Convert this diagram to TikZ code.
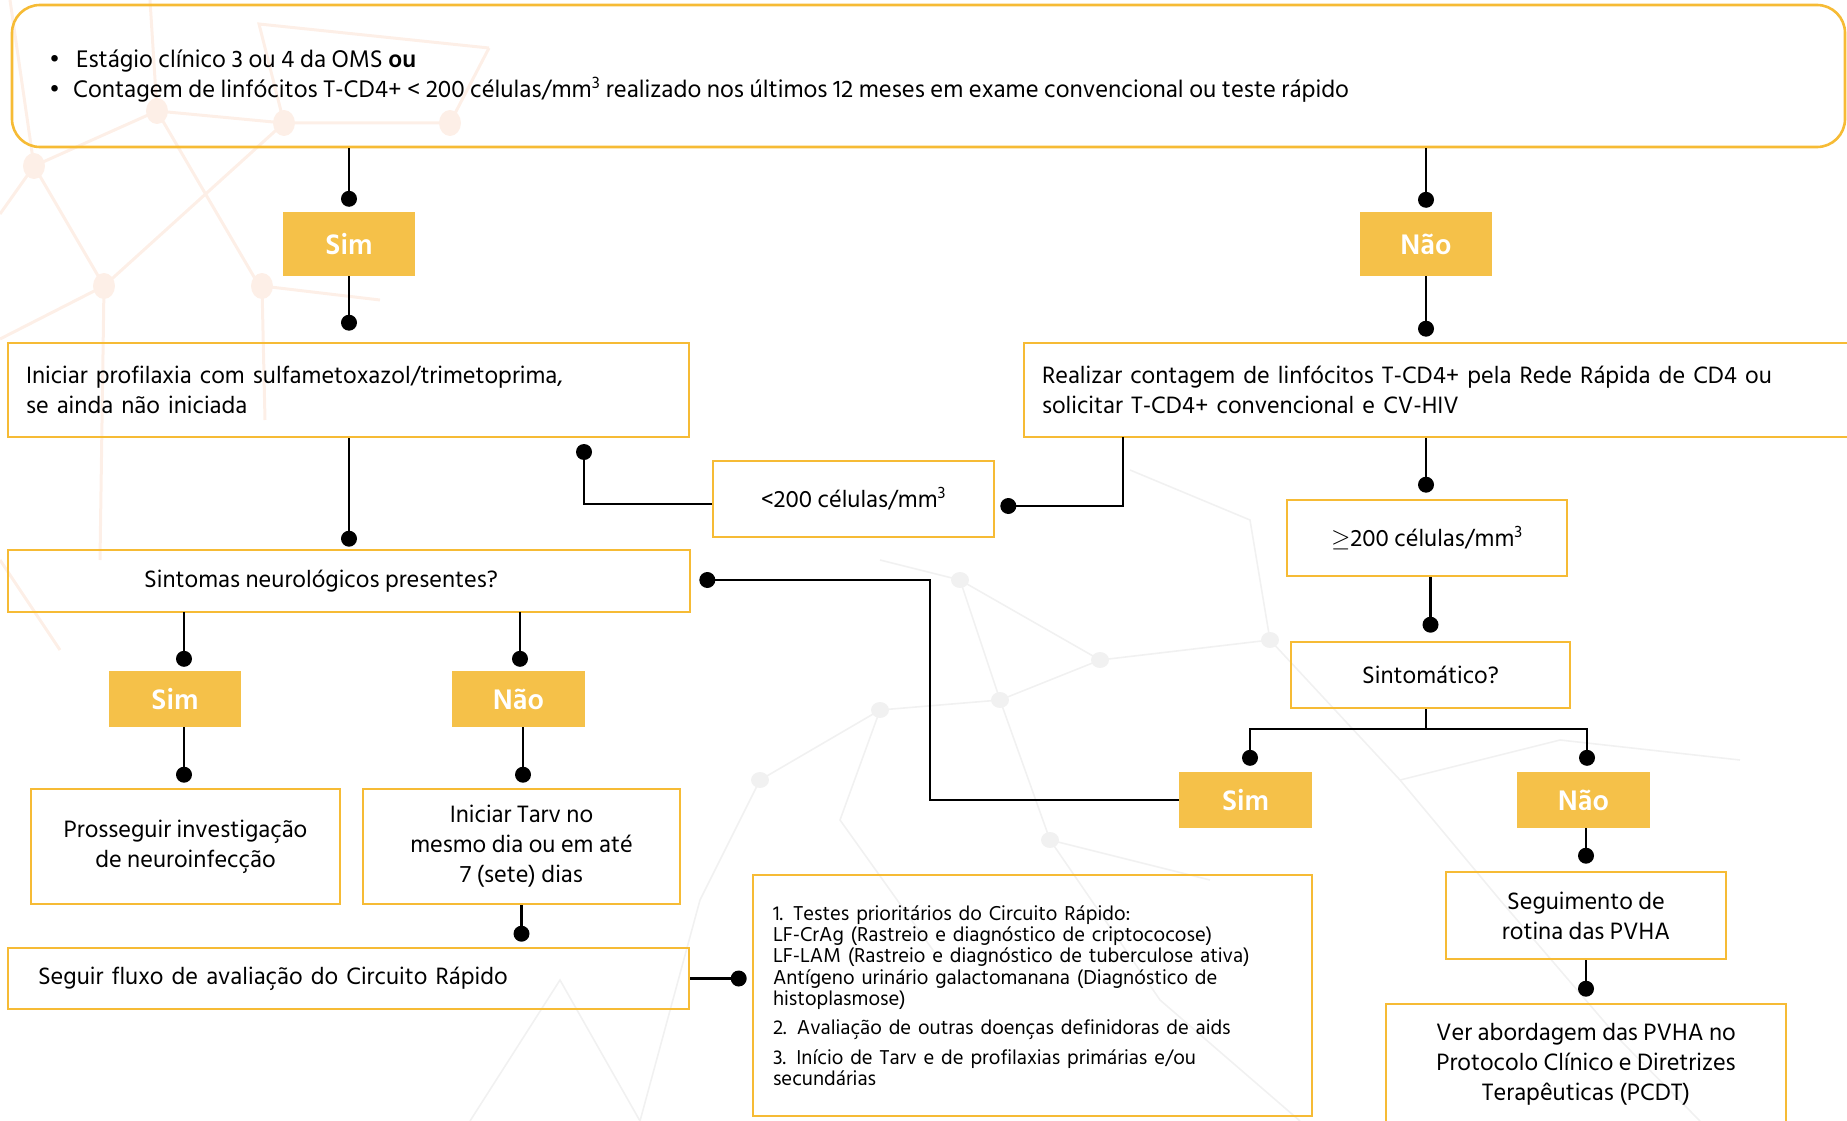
\documentclass[tikz,border=0pt]{standalone}
\usepackage{fontspec}
\setmainfont{Hind Siliguri}
\usetikzlibrary{calc}
\definecolor{boxline}{HTML}{F6BB35}
\definecolor{tagfill}{HTML}{F5C149}
\definecolor{netwarm}{HTML}{FDEFE7}
\definecolor{netcool}{HTML}{F1F1F1}

\begin{document}
\begin{tikzpicture}[x=1pt,y=-1pt,
  box/.style={draw=boxline, line width=2.6pt, inner sep=0pt,
    font=\fontsize{24.3}{30}\selectfont},
  tag/.style={fill=tagfill, inner sep=0pt, text=white,
    font=\fontsize{29}{30}\selectfont\bfseries},
  link/.style={line width=2.4pt, black},
  dot/.style={circle, fill=black, inner sep=0pt, minimum size=16pt},
  warm/.style={netwarm, line width=3pt},
  cool/.style={netcool, line width=1.6pt}
]
\useasboundingbox (0,0) rectangle (1847,1121);

% faint network texture in the background
\begin{scope}[warm]
  \draw (0,214) -- (34,166) -- (157,111) -- (284,123) -- (450,123);
  \draw (10,0) -- (34,166) -- (104,286) -- (0,339);
  \draw (150,0) -- (157,111) -- (257,282);
  \draw (104,286) -- (284,123) -- (259,24) -- (489,48);
  \draw (104,286) -- (100,560);
  \draw (262,286) -- (265,420);
  \draw (262,286) -- (380,300);
  \draw (450,123) -- (489,48);
  \draw (0,560) -- (60,650);
  \foreach \p in {(34,166),(157,111),(284,123),(104,286),(262,286),(450,123)}
    \fill[netwarm] \p ellipse (11pt and 13pt);
\end{scope}
\begin{scope}[cool]
  \draw (880,560) -- (960,580) -- (1000,700) -- (880,710) -- (760,780);
  \draw (960,580) -- (1100,660) -- (1000,700) -- (1050,840) -- (1210,880);
  \draw (1100,660) -- (1270,640) -- (1400,780) -- (1500,900);
  \draw (760,780) -- (700,900) -- (640,1121);
  \draw (1050,840) -- (1160,1000) -- (1300,1121);
  \draw (880,710) -- (840,820) -- (940,960);
  \draw (640,1121) -- (560,980) -- (470,1121);
  \draw (1270,640) -- (1250,520) -- (1130,470);
  \draw (1500,900) -- (1620,1040) -- (1700,1121);
  \draw (1400,780) -- (1560,740) -- (1740,760);
  \foreach \p in {(960,580),(1000,700),(880,710),(1100,660),(1050,840),(1270,640),(760,780)}
    \fill[netcool] \p ellipse (9pt and 8pt);
\end{scope}

% condition box
\node[box, rounded corners=28pt, minimum width=1833pt, minimum height=142pt]
  (crit) at (928.5,76) {};
\node[anchor=west, align=left, inner sep=0pt, font=\fontsize{24.6}{30}\selectfont]
  (crittext) at (49,76)
  {\textbullet\hspace{16pt}Estágio clínico 3 ou 4 da OMS \textbf{ou}\\
   \textbullet\hspace{13pt}Contagem de linfócitos T-CD4+ < 200 células/mm\textsuperscript{3}
   realizado nos últimos 12 meses em exame convencional ou teste rápido};

% first decision
\node[tag, minimum width=132pt, minimum height=64pt] (sim1) at (349,244) {Sim};
\node[tag, minimum width=132pt, minimum height=64pt] (nao1) at (1426,244) {Não};

\node[box, minimum height=94pt, text width=645pt, inner xsep=18pt, align=left]
  (prof) at (348.5,390)
  {Iniciar profilaxia com sulfametoxazol/trimetoprima,\\ se ainda não iniciada};
\node[box, minimum height=94pt, text width=792pt, inner xsep=18pt, align=left]
  (real) at (1438,390)
  {Realizar contagem de linfócitos T-CD4+ pela Rede Rápida de CD4 ou\\
   solicitar T-CD4+ convencional e CV-HIV};

\node[box, minimum width=281pt, minimum height=76pt] (lt) at (853.5,499)
  {<200 células/mm\textsuperscript{3}};
\node[box, minimum width=280pt, minimum height=76pt] (ge) at (1427,538)
  {$\geq$200 células/mm\textsuperscript{3}};

\node[box, minimum width=682pt, minimum height=62pt] (neuro) at (349,581)
  {Sintomas neurológicos presentes?\hspace*{56pt}\null};
\node[box, minimum width=279pt, minimum height=66pt] (symp) at (1430.5,675)
  {Sintomático?};

% second level answers
\node[tag, minimum width=132pt, minimum height=56pt] (sim2) at (175,699) {Sim};
\node[tag, minimum width=133pt, minimum height=56pt] (nao2) at (518.5,699) {Não};
\node[tag, minimum width=133pt, minimum height=56pt] (sim3) at (1245.5,800) {Sim};
\node[tag, minimum width=133pt, minimum height=56pt] (nao3) at (1583.5,800) {Não};

\node[box, minimum width=309pt, minimum height=115pt, align=center] (inv)
  at (185.5,846.5) {Prosseguir investigação\\ de neuroinfecção};
\node[box, minimum width=317pt, minimum height=115pt, align=center] (tarv)
  at (521.5,846.5) {Iniciar Tarv no\\ mesmo dia ou em até\\ 7 (sete) dias};
\node[box, minimum height=61pt, text width=621pt, inner xsep=30pt, align=left]
  (fluxo) at (348.5,978.5) {Seguir fluxo de avaliação do Circuito Rápido};

\node[box, minimum height=241pt, text width=519pt, inner xsep=20pt, align=left,
  font=\fontsize{20.6}{21.3}\selectfont] (cr) at (1032.5,995.5)
  {1. Testes prioritários do Circuito Rápido:\\
   LF-CrAg (Rastreio e diagnóstico de criptococose)\\
   LF-LAM (Rastreio e diagnóstico de tuberculose ativa)\\
   Antígeno urinário galactomanana (Diagnóstico de\\
   histoplasmose)\\[8pt]
   2. Avaliação de outras doenças definidoras de aids\\[8pt]
   3. Início de Tarv e de profilaxias primárias e/ou\\
   secundárias};

\node[box, minimum width=280pt, minimum height=87pt, align=center] (rot)
  at (1586,915.5) {Seguimento de\\ rotina das PVHA};
\node[box, minimum width=400pt, minimum height=121pt, align=center] (pcdt)
  at (1586,1064.5) {Ver abordagem das PVHA no\\ Protocolo Clínico e Diretrizes\\
  Terapêuticas (PCDT)};

% connectors, each ending in a dot next to its target
\draw[link] (crit.south -| sim1) -- ($(sim1.north)+(0,-13)$) node[dot] (d1) {};
\draw[link] (crit.south -| nao1) -- ($(nao1.north)+(0,-12)$) node[dot] (d2) {};
\draw[link] (sim1.south) -- ($(sim1.north |- prof.north)+(0,-19)$) node[dot] (d3) {};
\draw[link] (nao1.south) -- ($(nao1.north |- real.north)+(0,-13)$) node[dot] (d4) {};
\draw[link] (prof.south -| sim1) -- ($(sim1 |- neuro.north)+(0,-10)$) node[dot] (d5) {};
\coordinate (realLeg) at (1123,437);
\draw[link] (realLeg) |- ($(lt.east)+(13,7)$) node[dot] (d6) {};
\coordinate (profFoot) at (584,452);
\draw[link] ($(lt.west)+(0,5)$) -| (profFoot) node[dot] (d7) {};
\draw[link] (real.south -| nao1) -- ($(nao1 |- ge.north)+(0,-14)$) node[dot] (d8) {};
\draw[link] (ge.south -| symp) -- ($(symp.north)+(0,-16)$) node[dot] (d9) {};

\coordinate (fork) at (1426,729);
\draw[link] (symp.south -| fork) -- (fork);
\draw[link] (fork) -| ($(1250,0 |- sim3.north)+(0,-14)$) node[dot] (d10) {};
\draw[link] (fork) -| ($(1587,0 |- nao3.north)+(0,-14)$) node[dot] (d11) {};

\coordinate (bend) at (930,580);
\draw[link] (sim3.west) -| (bend) -- ($(neuro.east)+(16,-1)$) node[dot] (d12) {};

\draw[link] (184,612) -- ($(184,0 |- sim2.north)+(0,-12)$) node[dot] (d13) {};
\draw[link] (520,612) -- ($(520,0 |- nao2.north)+(0,-12)$) node[dot] (d14) {};
\draw[link] (184,727) -- ($(184,0 |- inv.north)+(0,-13)$) node[dot] (d15) {};
\draw[link] (523,727) -- ($(523,0 |- tarv.north)+(0,-13)$) node[dot] (d16) {};
\draw[link] (tarv.south) -- ($(tarv.south |- fluxo.north)+(0,-13)$) node[dot] (d17) {};
\draw[link] (fluxo.east) -- ($(cr.west |- fluxo.east)+(-13,0)$) node[dot] (d18) {};
\draw[link] (nao3.south -| rot) -- ($(rot.north)+(0,-15)$) node[dot] (d19) {};
\draw[link] (rot.south) -- ($(pcdt.north)+(0,-14)$) node[dot] (d20) {};
\end{tikzpicture}
\end{document}
